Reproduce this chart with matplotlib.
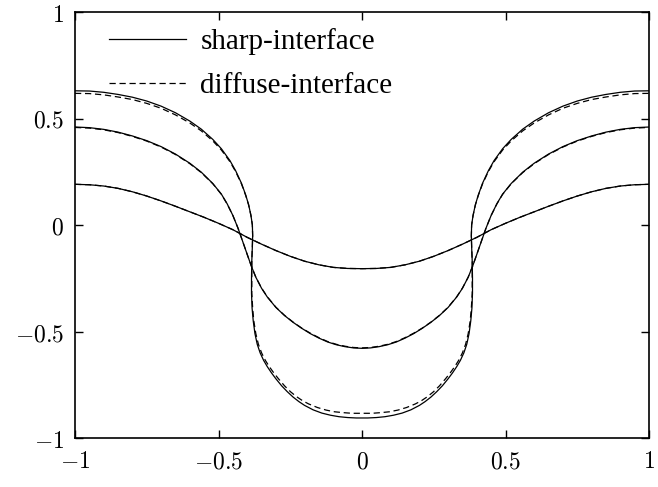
import matplotlib
matplotlib.use("Agg")
import matplotlib.pyplot as plt
from matplotlib.ticker import FixedLocator, FixedFormatter

# ---- data ----
# Large-amplitude interface, sharp-interface model
x_large_sharp = [-1.0, -0.95, -0.90, -0.85, -0.80, -0.75, -0.70, -0.65, -0.60, -0.56, -0.52, -0.49,
                 -0.46, -0.44, -0.42, -0.405, -0.395, -0.387, -0.382, -0.381, -0.382, -0.384, -0.385,
                 -0.385, -0.383, -0.379, -0.373, -0.365, -0.355, -0.343, -0.330, -0.315, -0.300, -0.280,
                 -0.260, -0.240, -0.220, -0.200, -0.170, -0.140, -0.110, -0.080, -0.050, -0.020, 0.0,
                 0.020, 0.050, 0.080, 0.110, 0.140, 0.170, 0.200, 0.220, 0.240, 0.260, 0.280, 0.300,
                 0.315, 0.330, 0.343, 0.355, 0.365, 0.373, 0.379, 0.383, 0.385, 0.385, 0.384, 0.382,
                 0.381, 0.382, 0.387, 0.395, 0.405, 0.42, 0.44, 0.46, 0.49, 0.52, 0.56, 0.60, 0.65,
                 0.70, 0.75, 0.80, 0.85, 0.90, 0.95, 1.0]
y_large_sharp = [0.630, 0.629, 0.623, 0.613, 0.600, 0.582, 0.558, 0.527, 0.488, 0.450, 0.402, 0.358,
                 0.302, 0.254, 0.196, 0.140, 0.095, 0.045, 0.000, -0.050, -0.100, -0.170, -0.250,
                 -0.320, -0.390, -0.450, -0.510, -0.560, -0.600, -0.635, -0.665, -0.695, -0.722, -0.755,
                 -0.783, -0.808, -0.829, -0.847, -0.868, -0.883, -0.893, -0.900, -0.904, -0.906, -0.906,
                 -0.906, -0.904, -0.900, -0.893, -0.883, -0.868, -0.847, -0.829, -0.808, -0.783, -0.755, -0.722,
                 -0.695, -0.665, -0.635, -0.600, -0.560, -0.510, -0.450, -0.390, -0.320, -0.250, -0.170, -0.100,
                 -0.050, 0.000, 0.045, 0.095, 0.140, 0.196, 0.254, 0.302, 0.358, 0.402, 0.450, 0.488, 0.527,
                 0.558, 0.582, 0.600, 0.613, 0.623, 0.629, 0.630]

# Large-amplitude interface, diffuse-interface model
x_large_diffuse = [-1.0, -0.95, -0.90, -0.85, -0.80, -0.75, -0.70, -0.65, -0.60, -0.56, -0.52, -0.49,
                   -0.46, -0.44, -0.42, -0.405, -0.395, -0.387, -0.382, -0.381, -0.382, -0.384, -0.384,
                   -0.384, -0.381, -0.377, -0.370, -0.361, -0.350, -0.337, -0.323, -0.307, -0.291, -0.270,
                   -0.249, -0.228, -0.207, -0.186, -0.155, -0.125, -0.095, -0.065, -0.035, -0.010, 0.0,
                   0.010, 0.035, 0.065, 0.095, 0.125, 0.155, 0.186, 0.207, 0.228, 0.249, 0.270, 0.291,
                   0.307, 0.323, 0.337, 0.350, 0.361, 0.370, 0.377, 0.381, 0.384, 0.384, 0.384, 0.382,
                   0.381, 0.382, 0.387, 0.395, 0.405, 0.42, 0.44, 0.46, 0.49, 0.52, 0.56, 0.60, 0.65,
                   0.70, 0.75, 0.80, 0.85, 0.90, 0.95, 1.0]
y_large_diffuse = [0.618, 0.617, 0.611, 0.601, 0.589, 0.571, 0.548, 0.517, 0.479, 0.442, 0.395, 0.352,
                   0.297, 0.250, 0.193, 0.138, 0.094, 0.045, 0.000, -0.050, -0.100, -0.170, -0.250,
                   -0.320, -0.390, -0.450, -0.510, -0.560, -0.600, -0.635, -0.665, -0.695, -0.722, -0.755,
                   -0.783, -0.806, -0.825, -0.840, -0.857, -0.869, -0.877, -0.881, -0.884, -0.884, -0.884,
                   -0.884, -0.884, -0.881, -0.877, -0.869, -0.857, -0.840, -0.825, -0.806, -0.783, -0.755, -0.722,
                   -0.695, -0.665, -0.635, -0.600, -0.560, -0.510, -0.450, -0.390, -0.320, -0.250, -0.170, -0.100,
                   -0.050, 0.000, 0.045, 0.094, 0.138, 0.193, 0.250, 0.297, 0.352, 0.395, 0.442, 0.479, 0.517,
                   0.548, 0.571, 0.589, 0.601, 0.611, 0.617, 0.618]

# Medium-amplitude interface (both models nearly coincide)
x_medium_sharp = [-1.0, -0.95, -0.90, -0.85, -0.80, -0.75, -0.70, -0.65, -0.60, -0.56, -0.52, -0.49,
                  -0.47, -0.45, -0.432, -0.415, -0.40, -0.385, -0.37, -0.35, -0.33, -0.30, -0.27, -0.24,
                  -0.21, -0.18, -0.15, -0.12, -0.09, -0.06, -0.03, 0.0,
                  0.03, 0.06, 0.09, 0.12, 0.15, 0.18, 0.21, 0.24, 0.27, 0.30, 0.33, 0.35, 0.37, 0.385,
                  0.40, 0.415, 0.432, 0.45, 0.47, 0.49, 0.52, 0.56, 0.60, 0.65, 0.70, 0.75, 0.80, 0.85,
                  0.90, 0.95, 1.0]
y_medium_sharp = [0.460, 0.457, 0.449, 0.436, 0.418, 0.396, 0.368, 0.333, 0.290, 0.248, 0.195, 0.145,
                  0.100, 0.045, -0.015, -0.080, -0.138, -0.195, -0.245, -0.297, -0.338, -0.387, -0.425, -0.457,
                  -0.485, -0.510, -0.531, -0.549, -0.562, -0.571, -0.577, -0.579,
                  -0.577, -0.571, -0.562, -0.549, -0.531, -0.510, -0.485, -0.457, -0.425, -0.387, -0.338, -0.297,
                  -0.245, -0.195, -0.138, -0.080, -0.015, 0.045, 0.100, 0.145, 0.195, 0.248, 0.290, 0.333, 0.368,
                  0.396, 0.418, 0.436, 0.449, 0.457, 0.460]
x_medium_diffuse = list(x_medium_sharp)
y_medium_diffuse = [0.458, 0.455, 0.447, 0.434, 0.416, 0.394, 0.366, 0.331, 0.288, 0.246, 0.194, 0.144,
                    0.099, 0.045, -0.015, -0.080, -0.138, -0.195, -0.245, -0.296, -0.337, -0.386, -0.424, -0.456,
                    -0.484, -0.508, -0.529, -0.547, -0.560, -0.569, -0.575, -0.577,
                    -0.575, -0.569, -0.560, -0.547, -0.529, -0.508, -0.484, -0.456, -0.424, -0.386, -0.337, -0.296,
                    -0.245, -0.195, -0.138, -0.080, -0.015, 0.045, 0.099, 0.144, 0.194, 0.246, 0.288, 0.331, 0.366,
                    0.394, 0.416, 0.434, 0.447, 0.455, 0.458]

# Small-amplitude interface (both models coincide)
x_small_sharp = [-1.0, -0.95, -0.90, -0.85, -0.80, -0.75, -0.70, -0.65, -0.60, -0.55, -0.50, -0.45,
                 -0.40, -0.35, -0.30, -0.25, -0.20, -0.15, -0.10, -0.05, 0.0,
                 0.05, 0.10, 0.15, 0.20, 0.25, 0.30, 0.35, 0.40, 0.45, 0.50, 0.55, 0.60, 0.65, 0.70,
                 0.75, 0.80, 0.85, 0.90, 0.95, 1.0]
y_small_sharp = [0.191, 0.189, 0.183, 0.172, 0.156, 0.136, 0.113, 0.088, 0.062, 0.036, 0.008, -0.022,
                 -0.058, -0.090, -0.120, -0.147, -0.170, -0.187, -0.199, -0.204, -0.205,
                 -0.204, -0.199, -0.187, -0.170, -0.147, -0.120, -0.090, -0.058, -0.022, 0.008, 0.036, 0.062,
                 0.088, 0.113, 0.136, 0.156, 0.172, 0.183, 0.189, 0.191]
x_small_diffuse = list(x_small_sharp)
y_small_diffuse = list(y_small_sharp)

x_ticks = [-1, -0.5, 0, 0.5, 1]
x_tick_labels = [r"$-1$", r"$-0.5$", r"$0$", r"$0.5$", r"$1$"]
y_ticks = [-1, -0.5, 0, 0.5, 1]
y_tick_labels = [r"$-1$", r"$-0.5$", r"$0$", r"$0.5$", r"$1$"]

legend_labels = ["sharp-interface", "diffuse-interface"]

# ---- plotting ----
plt.rcParams["mathtext.fontset"] = "cm"

fig = plt.figure(figsize=(6.58, 4.87), dpi=100)
ax = fig.add_axes([75 / 658, 1 - 438 / 487, (649 - 75) / 658, (438 - 12) / 487])

lw = 0.9
dash = (0, (5, 3))
l_sharp, = ax.plot(x_large_sharp, y_large_sharp, color="black", lw=lw, ls="-")
l_diff, = ax.plot(x_large_diffuse, y_large_diffuse, color="black", lw=lw, ls=dash)
ax.plot(x_medium_sharp, y_medium_sharp, color="black", lw=lw, ls="-")
ax.plot(x_medium_diffuse, y_medium_diffuse, color="black", lw=lw, ls=dash)
ax.plot(x_small_sharp, y_small_sharp, color="black", lw=lw, ls="-")
ax.plot(x_small_diffuse, y_small_diffuse, color="black", lw=lw, ls=dash)

ax.set_xlim(-1, 1)
ax.set_ylim(-1, 1)
ax.xaxis.set_major_locator(FixedLocator(x_ticks))
ax.xaxis.set_major_formatter(FixedFormatter(x_tick_labels))
ax.yaxis.set_major_locator(FixedLocator(y_ticks))
ax.yaxis.set_major_formatter(FixedFormatter(y_tick_labels))
ax.tick_params(direction="in", top=True, right=True, length=6, width=1, labelsize=17, pad=8)

for sp in ax.spines.values():
    sp.set_linewidth(1.2)

ax.legend([l_sharp, l_diff], legend_labels, loc="upper left", frameon=False,
          prop={"family": "Liberation Serif", "size": 21},
          handlelength=2.65, handletextpad=0.5, labelspacing=0.62,
          bbox_to_anchor=(0.028, 1.004), borderaxespad=0.2)

fig.savefig("out.png", dpi=100)
